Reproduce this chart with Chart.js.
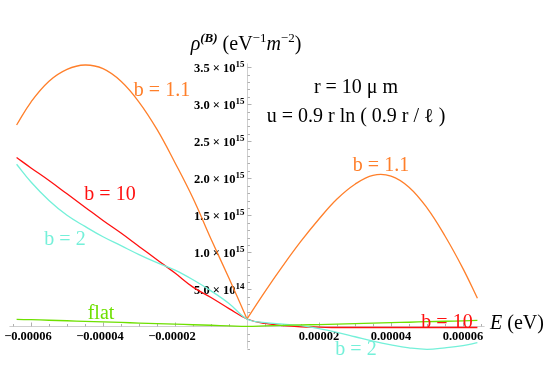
<!DOCTYPE html>
<html><head><meta charset="utf-8">
<script src="https://cdn.jsdelivr.net/npm/chart.js@4"></script>
<style>html,body{margin:0;padding:0;background:#fff}#wrap{width:549px;height:388px;position:relative}</style>
</head><body><div id="wrap"><canvas id="c" width="549" height="388"></canvas></div>
<script>
// ---- data (E in eV, rho in eV^-1 m^-2) ----
const energies = [-6.4e-5,-6.0e-5,-5.5e-5,-5.0e-5,-4.5e-5,-4.0e-5,-3.5e-5,-3.0e-5,-2.5e-5,-2.0e-5,-1.5e-5,-1.0e-5,-0.5e-5,0,
                  0.5e-5,1.0e-5,1.5e-5,2.0e-5,2.5e-5,3.0e-5,3.5e-5,4.0e-5,4.5e-5,5.0e-5,5.5e-5,6.0e-5,6.4e-5];
const rhoB1_1 = [2.72e15,3.03e15,3.31e15,3.47e15,3.53e15,3.48e15,3.31e15,3.03e15,2.66e15,2.21e15,1.73e15,1.18e15,0.65e15,0.10e15,
                 0.47e15,0.82e15,1.15e15,1.45e15,1.72e15,1.92e15,2.04e15,2.03e15,1.88e15,1.60e15,1.22e15,0.78e15,0.38e15];
const rhoB10 = [2.28e15,2.14e15,1.97e15,1.79e15,1.61e15,1.43e15,1.26e15,1.08e15,0.90e15,0.72e15,0.53e15,0.39e15,0.24e15,0.10e15,
                0.04e15,0.01e15,-0.005e15,-0.01e15,-0.015e15,-0.015e15,-0.015e15,-0.015e15,-0.015e15,-0.015e15,-0.015e15,-0.015e15,-0.015e15];
const rhoB2 = [2.19e15,1.95e15,1.70e15,1.50e15,1.35e15,1.21e15,1.09e15,0.97e15,0.86e15,0.76e15,0.63e15,0.48e15,0.31e15,0.10e15,
               0.05e15,0.03e15,0.01e15,-0.03e15,-0.08e15,-0.14e15,-0.20e15,-0.25e15,-0.29e15,-0.31e15,-0.29e15,-0.26e15,-0.22e15];
const rhoFlat = [0.095e15,0.09e15,0.083e15,0.076e15,0.068e15,0.06e15,0.053e15,0.045e15,0.037e15,0.03e15,0.022e15,0.015e15,0.007e15,0,
                 0.006e15,0.013e15,0.019e15,0.025e15,0.031e15,0.038e15,0.044e15,0.05e15,0.056e15,0.063e15,0.069e15,0.075e15,0.08e15];
const xTickValues = [-6e-5,-4e-5,-2e-5,2e-5,4e-5,6e-5];
const xTickLabels = ["\u22120.00006","\u22120.00004","\u22120.00002","0.00002","0.00004","0.00006"];
const yTickValues = [5e14,1e15,1.5e15,2e15,2.5e15,3e15,3.5e15];
const yTickMantissas = ["5.0","1.0","1.5","2.0","2.5","3.0","3.5"];
const yTickExponents = ["14","15","15","15","15","15","15"];

const COL = {orange:'#FF7F2A', red:'#FF1010', cyan:'#74F0D9', green:'#6EE000'};
const zeroIdx = energies.indexOf(0);
const pts = (arr, a, b) => energies.slice(a, b).map((e, i) => ({x: e, y: arr[a + i]}));

const SERIF = '"Liberation Serif", "Times New Roman", serif';

function drawRuns(ctx, runs, x, y, align) {
  let w = 0;
  runs.forEach(r => { ctx.font = r.font; r.w = ctx.measureText(r.t).width; w += r.w; });
  let sx = align === 'center' ? x - w / 2 : align === 'right' ? x - w : x;
  runs.forEach(r => { ctx.font = r.font; ctx.fillStyle = r.color || ctx.fillStyle; ctx.fillText(r.t, sx, y + (r.dy || 0)); sx += r.w; });
}

const mmaAxes = {
  id: 'mmaAxes',
  beforeDatasetsDraw(chart) {
    const {ctx, scales: {x, y}} = chart;
    const x0 = Math.round(x.getPixelForValue(0)) + 0.5, y0 = Math.round(y.getPixelForValue(0)) + 0.5;
    ctx.save();
    ctx.lineWidth = 1;
    ctx.strokeStyle = '#cfcfcf';
    ctx.beginPath();
    ctx.moveTo(x0, y.getPixelForValue(3.55e15)); ctx.lineTo(x0, y.getPixelForValue(-0.3e15));
    ctx.moveTo(x.getPixelForValue(-6.6e-5), y0); ctx.lineTo(x.getPixelForValue(6.6e-5), y0);
    ctx.stroke();
    // ticks
    ctx.strokeStyle = '#b0b0b0';
    ctx.beginPath();
    for (let k = -3; k <= 35; k++) {
      if (k === 0) continue;
      const py = Math.round(y.getPixelForValue(k * 1e14)) + 0.5;
      const len = (k % 5 === 0) ? 4 : 2.5;
      ctx.moveTo(x0, py); ctx.lineTo(x0 + len, py);
    }
    for (let k = -13; k <= 13; k++) {
      if (k === 0) continue;
      const px = Math.round(x.getPixelForValue(k * 0.5e-5)) + 0.5;
      const len = (k % 4 === 0) ? 4 : 2.5;
      ctx.moveTo(px, y0); ctx.lineTo(px, y0 - len);
    }
    ctx.stroke();
    // tick labels
    ctx.fillStyle = '#000';
    ctx.textBaseline = 'alphabetic';
    ctx.textAlign = 'left';
    yTickValues.forEach((v, i) => {
      const py = y.getPixelForValue(v);
      drawRuns(ctx, [
        {t: yTickMantissas[i] + ' \u00d7 10', font: 'bold 12.5px ' + SERIF},
        {t: yTickExponents[i], font: 'bold 9px ' + SERIF, dy: -5}
      ], x0 - 3, py + 4.5, 'right');
    });
    xTickValues.forEach((v, i) => {
      const px = x.getPixelForValue(v);
      drawRuns(ctx, [{t: xTickLabels[i], font: 'bold 12.5px ' + SERIF}], px - (v < 0 ? 3 : 0), y0 + 13.5, 'center');
    });
    ctx.restore();
  },
  afterDatasetsDraw(chart) {
    const {ctx} = chart;
    ctx.save();
    ctx.textBaseline = 'alphabetic';
    ctx.textAlign = 'left';
    const f = '20px ' + SERIF;
    const lab = (t, c, x, y) => drawRuns(ctx, [{t, font: f, color: c}], x, y, 'center');
    lab('b = 1.1', COL.orange, 162, 96);
    lab('b = 1.1', COL.orange, 381, 171);
    lab('b = 10', COL.red, 110, 200);
    lab('b = 2', COL.cyan, 65, 245);
    lab('flat', COL.green, 101, 319);
    lab('b = 10', COL.red, 447, 328);
    lab('b = 2', COL.cyan, 356, 355);
    ctx.fillStyle = '#000';
    drawRuns(ctx, [
      {t: '\u03c1', font: 'italic 20px ' + SERIF, color: '#000'},
      {t: '(B)', font: 'bold italic 13px ' + SERIF, dy: -8},
      {t: ' (eV', font: '20px ' + SERIF},
      {t: '\u22121', font: '13px ' + SERIF, dy: -8},
      {t: 'm', font: 'italic 20px ' + SERIF},
      {t: '\u22122', font: '13px ' + SERIF, dy: -8},
      {t: ')', font: '20px ' + SERIF}
    ], 246, 50, 'center');
    drawRuns(ctx, [{t: 'r = 10 \u03bc m', font: '20px ' + SERIF, color: '#000'}], 356, 93, 'center');
    drawRuns(ctx, [{t: 'u = 0.9 r ln ( 0.9 r / \u2113 )', font: '20px ' + SERIF, color: '#000'}], 356, 122, 'center');
    drawRuns(ctx, [
      {t: 'E', font: 'italic 20px ' + SERIF, color: '#000'},
      {t: ' (eV)', font: '20px ' + SERIF}
    ], 490, 329, 'left');
    ctx.restore();
  }
};

const ds = (label, data, color) => ({label, data, borderColor: color, backgroundColor: color, borderWidth: 1.3,
  pointRadius: 0, showLine: true, fill: false, tension: 0.4, clip: false});

new Chart(document.getElementById('c'), {
  type: 'scatter',
  data: {datasets: [
    ds('flat', pts(rhoFlat, 0, energies.length), COL.green),
    ds('b = 2', pts(rhoB2, 0, energies.length), COL.cyan),
    ds('b = 10', pts(rhoB10, 0, energies.length), COL.red),
    ds('b = 1.1 (E<0)', pts(rhoB1_1, 0, zeroIdx + 1), COL.orange),
    ds('b = 1.1 (E>0)', pts(rhoB1_1, zeroIdx, energies.length), COL.orange)
  ]},
  options: {
    responsive: false, animation: false, devicePixelRatio: 1,
    layout: {padding: {left: 13, right: 68, top: 45, bottom: 32}},
    plugins: {legend: {display: false}, tooltip: {enabled: false}, title: {display: false}},
    scales: {
      x: {type: 'linear', min: -6.5e-5, max: 6.5e-5, display: false},
      y: {type: 'linear', min: -0.4e15, max: 3.8e15, display: false}
    }
  },
  plugins: [mmaAxes]
});
</script></body></html>
